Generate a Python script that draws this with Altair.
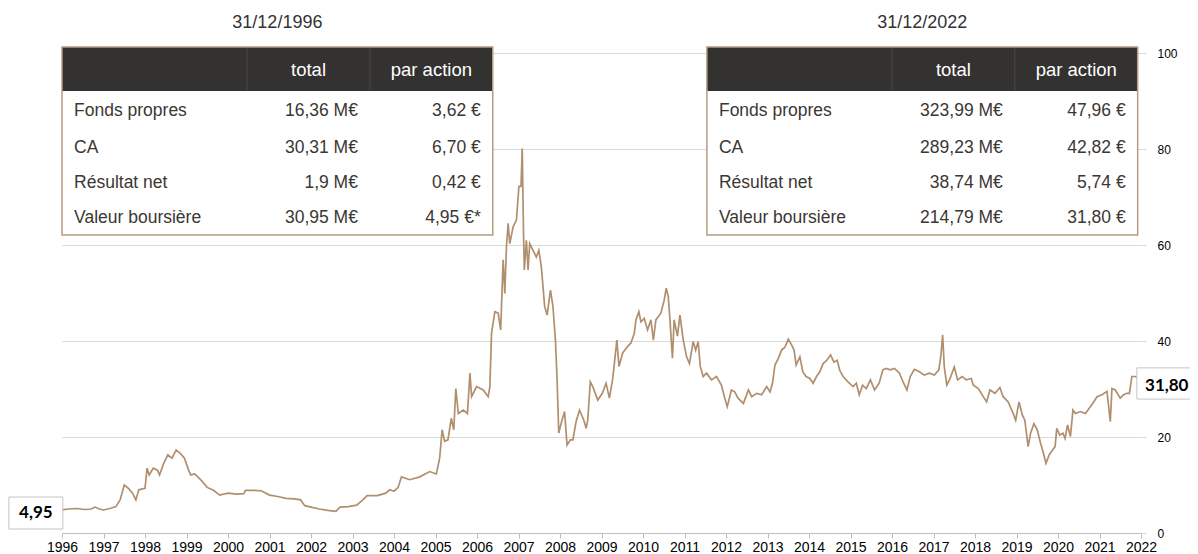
import altair as alt
import pandas as pd

# ---------------- data ----------------
t = [1996.00, 1996.15, 1996.35, 1996.55, 1996.70, 1996.80, 1996.90, 1997.00, 1997.15, 1997.30,
     1997.40, 1997.50, 1997.60, 1997.70, 1997.78, 1997.85, 1998.00, 1998.05, 1998.10, 1998.20,
     1998.30, 1998.35, 1998.45, 1998.55, 1998.65, 1998.75, 1998.85, 1998.95, 1999.05, 1999.10,
     1999.20, 1999.35, 1999.50, 1999.65, 1999.80, 2000.00, 2000.20, 2000.38, 2000.42, 2000.60,
     2000.80, 2001.00, 2001.20, 2001.40, 2001.60, 2001.75, 2001.85, 2002.00, 2002.20, 2002.40,
     2002.60, 2002.70, 2002.90, 2003.10, 2003.25, 2003.35, 2003.60, 2003.80, 2003.90, 2004.00,
     2004.10, 2004.18, 2004.38, 2004.62, 2004.86, 2005.02, 2005.10, 2005.16, 2005.22, 2005.30,
     2005.38, 2005.44, 2005.49, 2005.55, 2005.67, 2005.77, 2005.83, 2005.87, 2005.99, 2006.15,
     2006.27, 2006.31, 2006.35, 2006.43, 2006.51, 2006.57, 2006.63, 2006.67, 2006.71, 2006.75,
     2006.79, 2006.87, 2006.95, 2007.01, 2007.06, 2007.09, 2007.12, 2007.14, 2007.19, 2007.23,
     2007.27, 2007.35, 2007.43, 2007.49, 2007.55, 2007.63, 2007.69, 2007.77, 2007.83, 2007.89,
     2007.93, 2007.97, 2008.05, 2008.11, 2008.17, 2008.25, 2008.31, 2008.39, 2008.47, 2008.57,
     2008.63, 2008.67, 2008.73, 2008.79, 2008.91, 2009.02, 2009.11, 2009.19, 2009.27, 2009.37,
     2009.42, 2009.51, 2009.63, 2009.71, 2009.79, 2009.83, 2009.90, 2009.95, 2010.03, 2010.11,
     2010.19, 2010.25, 2010.31, 2010.43, 2010.51, 2010.56, 2010.61, 2010.65, 2010.69, 2010.71,
     2010.75, 2010.83, 2010.89, 2010.97, 2011.05, 2011.12, 2011.21, 2011.27, 2011.33, 2011.38,
     2011.45, 2011.53, 2011.65, 2011.77, 2011.89, 2011.97, 2012.03, 2012.13, 2012.21, 2012.29,
     2012.42, 2012.54, 2012.62, 2012.74, 2012.86, 2012.98, 2013.06, 2013.12, 2013.18, 2013.26,
     2013.34, 2013.42, 2013.50, 2013.58, 2013.64, 2013.69, 2013.78, 2013.85, 2013.93, 2014.02,
     2014.10, 2014.18, 2014.26, 2014.34, 2014.42, 2014.52, 2014.60, 2014.68, 2014.74, 2014.82,
     2014.94, 2015.06, 2015.14, 2015.21, 2015.29, 2015.38, 2015.48, 2015.58, 2015.69, 2015.78,
     2015.86, 2015.96, 2016.06, 2016.18, 2016.28, 2016.36, 2016.44, 2016.54, 2016.66, 2016.78,
     2016.90, 2017.02, 2017.13, 2017.18, 2017.22, 2017.26, 2017.32, 2017.40, 2017.50, 2017.58,
     2017.69, 2017.79, 2017.91, 2017.96, 2018.08, 2018.20, 2018.28, 2018.36, 2018.48, 2018.60,
     2018.68, 2018.80, 2018.92, 2018.98, 2019.06, 2019.14, 2019.20, 2019.28, 2019.34, 2019.42,
     2019.50, 2019.58, 2019.65, 2019.71, 2019.79, 2019.87, 2019.93, 2019.97, 2020.04, 2020.12,
     2020.17, 2020.23, 2020.30, 2020.36, 2020.42, 2020.54, 2020.66, 2020.78, 2020.86, 2020.94,
     2021.06, 2021.18, 2021.26, 2021.30, 2021.38, 2021.50, 2021.58, 2021.66, 2021.72, 2021.78,
     2021.86, 2021.98, 2022.00]

price = [4.8, 5.0, 5.1, 4.9, 5.0, 5.4, 5.0, 4.8, 5.1, 5.5,
         6.9, 10.0, 9.3, 8.3, 6.9, 9.0, 9.3, 13.5, 12.1, 13.5,
         13.1, 12.1, 14.5, 16.3, 15.6, 17.3, 16.6, 15.6, 13.1, 12.1,
         12.3, 11.0, 9.5, 8.9, 7.9, 8.3, 8.1, 8.2, 8.9, 8.9,
         8.8, 7.9, 7.6, 7.2, 7.1, 6.9, 5.7, 5.4, 5.0, 4.7,
         4.5, 5.4, 5.5, 5.8, 6.9, 7.8, 7.8, 8.3, 9.0, 8.7,
         9.5, 11.7, 11.1, 11.7, 12.8, 12.3, 15.6, 21.5, 19.1, 19.4,
         23.9, 21.5, 30.1, 24.9, 25.6, 24.9, 33.3, 28.4, 30.5, 29.8,
         28.4, 30.5, 41.6, 46.1, 45.8, 42.3, 56.9, 49.9, 59.7, 64.5,
         60.3, 63.8, 65.2, 72.2, 72.2, 80.1, 63.1, 54.8, 61.0, 54.8,
         60.3, 58.9, 57.5, 58.9, 55.5, 47.2, 45.4, 50.6, 47.2, 40.2,
         31.9, 20.8, 23.6, 25.3, 18.3, 19.4, 19.4, 23.3, 25.6, 23.6,
         21.8, 23.6, 31.5, 30.5, 27.7, 29.1, 31.2, 28.1, 32.1, 40.2,
         34.7, 37.5, 38.9, 39.6, 41.6, 44.4, 46.1, 44.0, 44.7, 42.3,
         44.4, 40.2, 44.4, 45.8, 48.5, 51.0, 49.2, 44.4, 38.9, 36.4,
         44.4, 41.0, 45.4, 40.2, 36.7, 35.3, 39.9, 38.1, 39.9, 34.7,
         32.6, 33.3, 31.9, 32.6, 30.8, 28.1, 26.3, 29.8, 29.4, 28.1,
         27.0, 29.8, 28.4, 29.1, 28.8, 30.5, 29.4, 31.2, 35.0, 36.4,
         38.1, 38.7, 40.4, 39.2, 38.1, 35.0, 36.7, 33.6, 32.6, 32.2,
         31.2, 32.6, 33.6, 35.3, 35.9, 37.1, 35.6, 36.0, 33.9, 32.6,
         31.5, 30.5, 31.2, 28.8, 30.8, 30.1, 31.9, 29.8, 31.2, 34.0,
         34.3, 34.0, 34.3, 33.3, 31.2, 29.8, 32.6, 34.1, 33.6, 32.9,
         33.3, 32.9, 34.0, 37.1, 41.3, 34.6, 30.8, 32.2, 34.6, 31.9,
         32.6, 31.9, 32.2, 30.8, 30.1, 28.4, 27.3, 29.8, 29.1, 30.3,
         28.4, 27.3, 24.9, 23.5, 27.3, 24.6, 23.5, 18.0, 20.8, 22.8,
         21.5, 18.7, 16.6, 14.5, 16.3, 17.3, 18.0, 21.8, 20.4, 20.8,
         19.7, 22.5, 20.1, 25.6, 24.9, 25.3, 24.9, 26.3, 27.3, 28.4,
         28.8, 29.5, 23.2, 30.1, 29.8, 28.1, 28.8, 29.1, 29.1, 32.6,
         32.6, 32.2, 31.8]

years = list(range(1996, 2023))
y_ticks = [0, 20, 40, 60, 80, 100]

table_titles = ["31/12/1996", "31/12/2022"]
col_headers = ["total", "par action"]
row_labels = ["Fonds propres", "CA", "Résultat net", "Valeur boursière"]
total_1996 = ["16,36 M€", "30,31 M€", "1,9 M€", "30,95 M€"]
per_share_1996 = ["3,62 €", "6,70 €", "0,42 €", "4,95 €*"]
total_2022 = ["323,99 M€", "289,23 M€", "38,74 M€", "214,79 M€"]
per_share_2022 = ["47,96 €", "42,82 €", "5,74 €", "31,80 €"]
start_label = "4,95"
end_label = "31,80"

# ---------------- layout (in data units of the chart scales) ----------------
TABLE_X0 = [1996.0, 2011.54]
COL_W = [4.46, 2.96, 2.96]
TOP, HEAD_BOT, BOT = 101.25, 92.08, 62.08
HEAD_Y = 96.5
ROW_Y = [87.9, 80.2, 72.9, 65.6]
TITLE_Y = 106.3
INSET = 0.29

START_BOX = dict(x=1994.72, x2=1996.02, y=0.83, y2=7.5, tx=1995.37, ty=4.17)
END_BOX = dict(x=2021.90, x2=2023.45, y=27.9, y2=34.4, tx=2022.62, ty=30.6)

LINE_COLOR = "#b08f6f"
BORDER_COLOR = "#b49c83"
HEAD_FILL = "#333231"
TEXT_COLOR = "#3b3733"
FONT = "Liberation Sans"

# ---------------- scales / axes ----------------
xscale = alt.Scale(domain=[1996, 2022], nice=False, zero=False)
yscale = alt.Scale(domain=[0, 100], nice=False, zero=False)
xaxis = alt.Axis(values=years, format="d", title=None, grid=False,
                 domainColor="#bfbfbf", tickColor="#bfbfbf", tickSize=5,
                 labelFont=FONT, labelFontSize=14, labelColor="#000000",
                 labelPadding=2, labelOverlap=False, labelFlush=False)
yaxis = alt.Axis(orient="right", values=y_ticks, title=None, grid=True,
                 gridColor="#d9d9d9", domain=False, tickColor="#d9d9d9",
                 tickSize=5, labelFont=FONT, labelFontSize=12,
                 labelColor="#000000", labelPadding=11)
X = alt.X("x:Q", scale=xscale, axis=xaxis)
Y = alt.Y("y:Q", scale=yscale, axis=yaxis)

# ---------------- build tables ----------------
head_rows, body_rows, sep_rows = [], [], []
title_rows, head_txt, left_txt, right_txt = [], [], [], []
tables = [(total_1996, per_share_1996), (total_2022, per_share_2022)]
for k, x0 in enumerate(TABLE_X0):
    edges = [x0, x0 + COL_W[0], x0 + COL_W[0] + COL_W[1], x0 + sum(COL_W)]
    head_rows.append(dict(x=edges[0], x2=edges[3], y=HEAD_BOT, y2=TOP))
    body_rows.append(dict(x=edges[0], x2=edges[3], y=BOT, y2=TOP))
    for e in edges[1:3]:
        sep_rows.append(dict(x=e, x2=e, y=HEAD_BOT, y2=TOP))
    title_rows.append(dict(x=(edges[0] + edges[3]) / 2, y=TITLE_Y, text=table_titles[k]))
    for c, h in enumerate(col_headers):
        head_txt.append(dict(x=(edges[c + 1] + edges[c + 2]) / 2, y=HEAD_Y, text=h))
    tot, per = tables[k]
    for r, lab in enumerate(row_labels):
        left_txt.append(dict(x=edges[0] + INSET, y=ROW_Y[r], text=lab))
        right_txt.append(dict(x=edges[2] - INSET, y=ROW_Y[r], text=tot[r]))
        right_txt.append(dict(x=edges[3] - INSET, y=ROW_Y[r], text=per[r]))

line_df = pd.DataFrame({"x": t, "y": price})

line = alt.Chart(line_df).mark_line(color=LINE_COLOR, strokeWidth=1.7).encode(x=X, y=Y)

body = alt.Chart(pd.DataFrame(body_rows)).mark_rect(fill="white").encode(x=X, x2="x2", y=Y, y2="y2")
head = alt.Chart(pd.DataFrame(head_rows)).mark_rect(fill=HEAD_FILL).encode(x=X, x2="x2", y=Y, y2="y2")
seps = alt.Chart(pd.DataFrame(sep_rows)).mark_rule(color="#4a4847", strokeWidth=1).encode(x=X, y=Y, y2="y2")
border = alt.Chart(pd.DataFrame(body_rows)).mark_rect(
    fillOpacity=0, stroke=BORDER_COLOR, strokeWidth=1.5).encode(x=X, x2="x2", y=Y, y2="y2")

titles = alt.Chart(pd.DataFrame(title_rows)).mark_text(
    font=FONT, fontSize=18, color="#333333", align="center", baseline="middle").encode(x=X, y=Y, text="text:N")
heads = alt.Chart(pd.DataFrame(head_txt)).mark_text(
    font=FONT, fontSize=18.5, color="white", align="center", baseline="middle").encode(x=X, y=Y, text="text:N")
lefts = alt.Chart(pd.DataFrame(left_txt)).mark_text(
    font=FONT, fontSize=17.5, color=TEXT_COLOR, align="left", baseline="middle").encode(x=X, y=Y, text="text:N")
rights = alt.Chart(pd.DataFrame(right_txt)).mark_text(
    font=FONT, fontSize=17.5, color=TEXT_COLOR, align="right", baseline="middle").encode(x=X, y=Y, text="text:N")

box_df = pd.DataFrame([START_BOX, END_BOX])
box_df["text"] = [start_label, end_label]
boxes = alt.Chart(box_df).mark_rect(fill="white", stroke="#c4c4c4", strokeWidth=1).encode(
    x=X, x2="x2", y=Y, y2="y2")
box_txt = alt.Chart(box_df).mark_text(
    font="Lato", fontWeight="bold", fontSize=17, color="#000000", align="center", baseline="middle"
).encode(x=alt.X("tx:Q", scale=xscale, axis=xaxis), y=alt.Y("ty:Q", scale=yscale, axis=yaxis), text="text:N")

chart = alt.layer(line, body, head, seps, border, titles, heads, lefts, rights, boxes, box_txt).properties(
    width=1079, height=480,
    autosize=alt.AutoSizeParams(type="none"),
    padding={"left": 54, "top": 45, "right": 49, "bottom": 21},
).configure_view(stroke=None)

chart.save("out.html", embed_options={"renderer": "svg", "actions": False})
